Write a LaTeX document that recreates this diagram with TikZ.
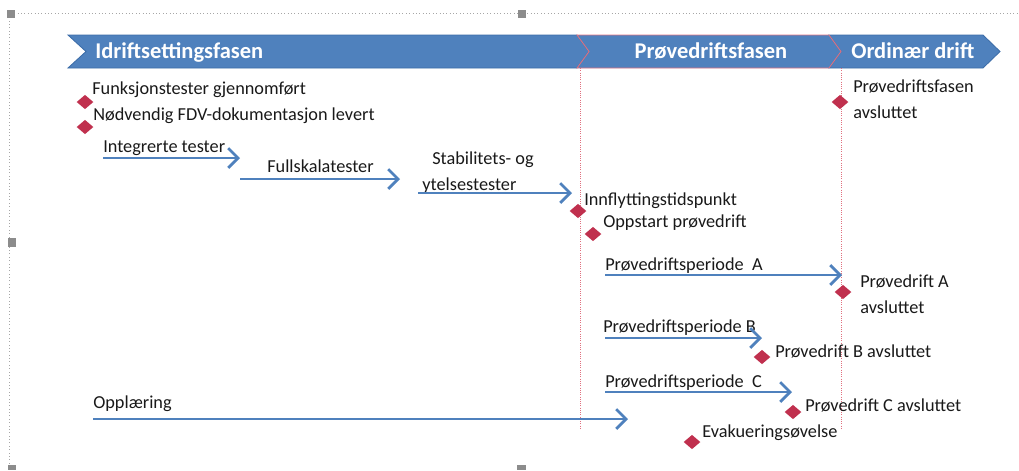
\documentclass[tikz,border=0pt]{standalone}
\usepackage{fontspec}
\setmainfont{Carlito}
\usetikzlibrary{arrows.meta,positioning,shapes.geometric}
\definecolor{phaseblue}{HTML}{4F81BD}
\definecolor{phaseline}{HTML}{3C6DA8}
\definecolor{markred}{HTML}{C0304E}
\definecolor{limitred}{HTML}{E0707F}
\definecolor{handlegray}{HTML}{8C8C8C}

\begin{document}
\begin{tikzpicture}[
  x=0.025cm, y=-0.025cm,
  phase/.style={fill=phaseblue, draw=phaseline, line width=0.6pt},
  phasetxt/.style={text=white, font=\fontsize{16}{18}\selectfont\bfseries, inner sep=0pt, anchor=base west},
  lbl/.style={font=\fontsize{13}{18}\selectfont, inner sep=0pt, anchor=base west, text=black!90, align=left},
  milestone/.style={diamond, fill=markred, inner sep=0pt, minimum width=0.42cm, minimum height=0.36cm},
  period/.style={line width=2pt, phaseblue, -{Straight Barb[length=7pt,width=14pt]}},
  limit/.style={limitred, densely dotted, line width=0.6pt},
  handle/.style={fill=handlegray}
]
\useasboundingbox (0,0) rectangle (1019,470);

% frame and handles
\draw[gray!70, dotted] (9,470) -- (9,13) -- (1019,13);
\fill[handle] (7,10) rectangle (15,18);
\fill[handle] (518,10) rectangle (526,18);
\fill[handle] (8,238) rectangle (16,247);
\fill[handle] (8,465) rectangle (16,470);
\fill[handle] (517,465) rectangle (526,470);

% phases
\path[phase] (68,35) -- (577,35) -- (589,51.5) -- (577,68) -- (68,68) -- (86,51.5) -- cycle;
\path[phase] (829,35) -- (983,35) -- (1000,51.5) -- (983,68) -- (829,68) -- (841,51.5) -- cycle;
\path[phase, draw=limitred] (577,35) -- (829,35) -- (841,51.5) -- (829,68) -- (577,68) -- (589,51.5) -- cycle;
\node[phasetxt] (fase1) at (95,58) {Idriftsettingsfasen};
\node[phasetxt, anchor=base] (fase2) at (711,58) {Prøvedriftsfasen};
\node[phasetxt] (fase3) at (851,58) {Ordinær drift};

\draw[limit] (580,68) -- (580,430);
\draw[limit] (841,68) -- (841,430);

% milestones
\node[milestone] (funk) at (85,102) {};
\node[milestone] (fdv) at (85,127) {};
\node[milestone] (innfl) at (578,211) {};
\node[milestone] (oppst) at (593,234) {};
\node[milestone] (pfavs) at (840,102) {};
\node[milestone] (pavsA) at (843,292) {};
\node[milestone] (pavsB) at (762,357) {};
\node[milestone] (pavsC) at (793,412) {};
\node[milestone] (evak) at (692,442) {};

\node[lbl] (funktxt) at (92,94) {Funksjonstester gjennomført};
\node[lbl] (fdvtxt) at (93,120) {Nødvendig FDV-dokumentasjon levert};
\node[lbl] (innfltxt) at (584,205) {Innflyttingstidspunkt};
\node[lbl] (oppsttxt) at (603,227) {Oppstart prøvedrift};
\node[lbl] (pfavstxt) at (853,118) {Prøvedriftsfasen\\avsluttet};
\node[lbl] (pavsAtxt) at (860,313) {Prøvedrift A\\avsluttet};
\node[lbl] (pavsBtxt) at (775,357) {Prøvedrift B avsluttet};
\node[lbl] (pavsCtxt) at (805,411) {Prøvedrift C avsluttet};
\node[lbl] (evaktxt) at (702,437) {Evakueringsøvelse};

% periods
\node[lbl] (integ) at (103,152) {Integrerte tester};
\node[lbl] (fullsk) at (267,172) {Fullskalatester};
\node[lbl] (stabil) at (422,190) {\hspace*{0.25cm}Stabilitets- og\\ytelsestester};
\node[lbl] (perA) at (605,270) {Prøvedriftsperiode\ \ A};
\node[lbl] (perB) at (603,332) {Prøvedriftsperiode\ B};
\node[lbl] (perC) at (605,387) {Prøvedriftsperiode\ \ C};
\node[lbl] (oppl) at (93,408) {Opplæring};

\coordinate (integS) at (103,158);  \coordinate (integE) at (240,158);
\coordinate (fullskS) at (240,179); \coordinate (fullskE) at (400,179);
\coordinate (stabilS) at (418,193); \coordinate (stabilE) at (572,193);
\coordinate (perAS) at (605,275);   \coordinate (perAE) at (842,275);
\coordinate (perBS) at (605,338);   \coordinate (perBE) at (762,338);
\coordinate (perCS) at (605,392);   \coordinate (perCE) at (792,392);
\coordinate (opplS) at (93,419);    \coordinate (opplE) at (628,419);

\draw[period] (integS) -- (integE);
\draw[period] (fullskS) -- (fullskE);
\draw[period] (stabilS) -- (stabilE);
\draw[period] (perAS) -- (perAE);
\draw[period] (perBS) -- (perBE);
\draw[period] (perCS) -- (perCE);
\draw[period] (opplS) -- (opplE);

\end{tikzpicture}
\end{document}
